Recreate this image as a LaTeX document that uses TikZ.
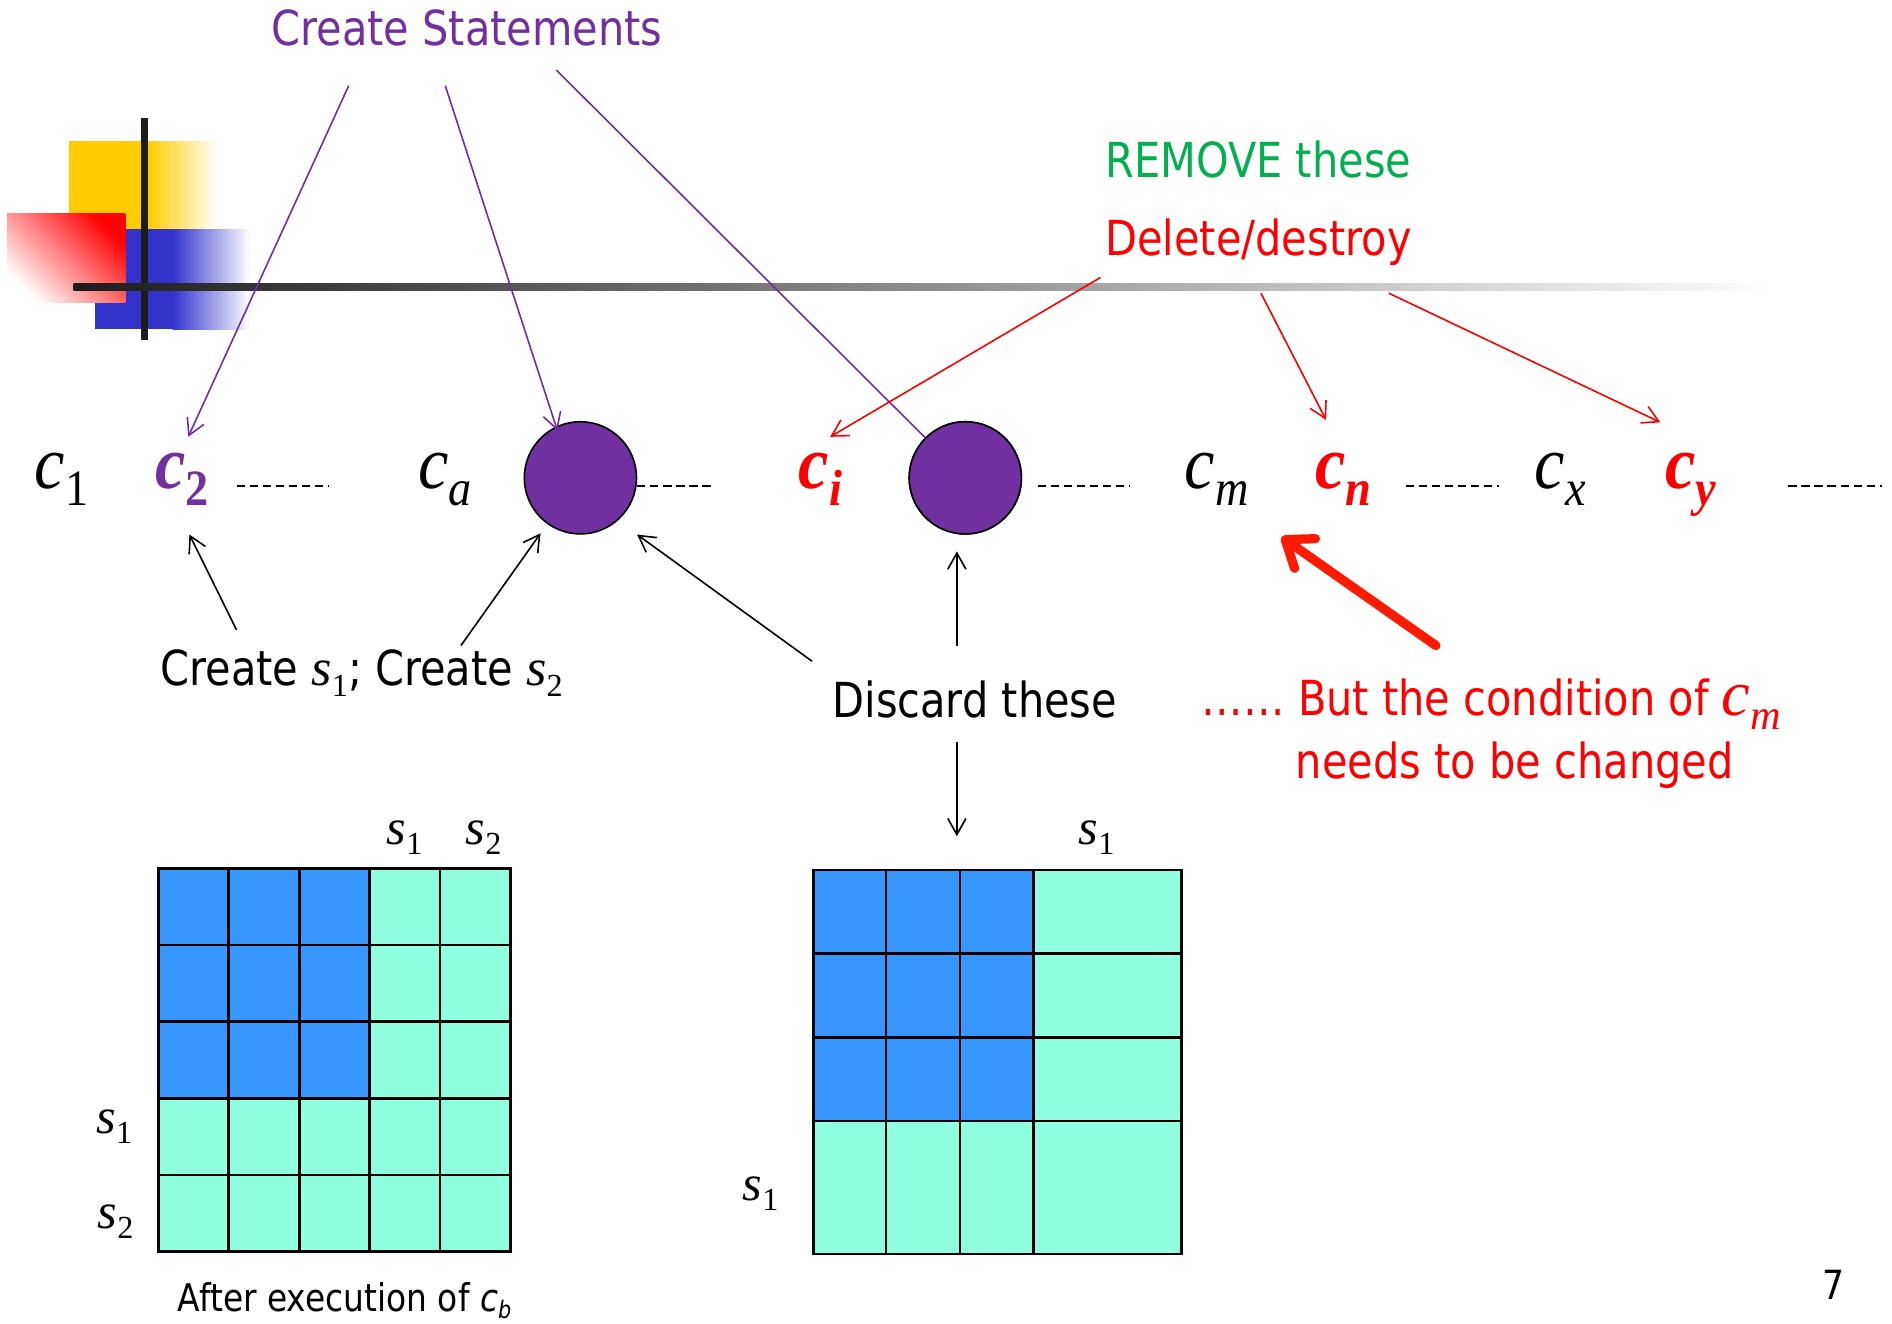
\documentclass[tikz,border=0pt]{standalone}
\usepackage{fontspec}
\setmainfont{DejaVu Sans}[FakeStretch=0.86]
\newfontfamily\tms{Liberation Serif}
\usetikzlibrary{arrows.meta}

\definecolor{stmtviolet}{HTML}{7030A0}
\definecolor{removegreen}{HTML}{00B050}
\definecolor{cellblue}{HTML}{3797FE}
\definecolor{cellaqua}{HTML}{8FFFE0}
\definecolor{logoyellow}{HTML}{FFCC00}
\definecolor{logoblue}{HTML}{3333CC}
\definecolor{barblack}{HTML}{1C1C1C}
\definecolor{arrowred}{HTML}{FF1A00}

% italic Times-style symbol with a lowered subscript:
% #1 symbol, #2 subscript, #3 symbol size, #4 subscript size, #5 drop
\newcommand\symsub[5]{{\fontsize{#3}{#3}\selectfont\tms\itshape #1}\raisebox{-#5}{\fontsize{#4}{#4}\selectfont\tms #2}}
% condition symbol c with its index, slightly stretched upwards
\newcommand\cond[2]{\scalebox{1}[1.1]{\symsub{#1c}{#2}{34}{23}{8pt}}}

\begin{document}
\begin{tikzpicture}[x=0.6pt,y=-0.6pt,
  txt/.style={inner sep=0pt,outer sep=0pt,anchor=base west},
  big/.style={font=\fontsize{24}{24}\selectfont},
  thinarrow/.style={line width=0.8pt,-{Straight Barb[length=8pt,width=9pt]}},
  rowdash/.style={line width=1.05pt,dash pattern=on 4.1pt off 2.4pt},
  gridline/.style={line width=1.3pt,line cap=rect},
  blob/.style={circle,draw=black,line width=0.8pt,fill=stmtviolet,minimum size=55.8pt,inner sep=0pt},
  bigarrow/.style={draw=arrowred,line width=4.6pt,line cap=round,-{Straight Barb[length=12pt,width=18pt,round]}}
]
\useasboundingbox (0,0) rectangle (1568,1097);

% ---- corner logo ----
\fill[logoyellow] (57,117) rectangle (123,190);
\shade[left color=logoyellow,right color=white] (123,117) rectangle (180,190);
\fill[logoblue] (79,190) rectangle (143,273);
\shade[left color=logoblue,right color=white] (143,190) rectangle (207,273);
\shade[top color=red,bottom color=white,shading angle=-45] (6,177) rectangle (104,251);
\fill[barblack] (117,98) rectangle (123,282);
\shade[left color=barblack,right color=white] (61,235) rectangle (1470,241);

% ---- headings ----
\node[txt,big,text=stmtviolet] (cs) at (225,38) {Create Statements};
\node[txt,big,text=removegreen] (rm) at (916,147) {REMOVE these};
\node[txt,big,text=red] (dd) at (916,212) {Delete/destroy};

% ---- row of conditions ----
\node[txt] (c1) at (29,404.5) {\cond{}{1}};
\node[txt,text=stmtviolet] (c2) at (128.5,404.5) {\cond{\bfseries}{\bfseries 2}};
\node[txt] (ca) at (346.5,404.5) {\cond{}{\itshape a}};
\node[blob] (circA) at (481,396) {};
\node[txt,text=red] (ci) at (662,404.5) {\cond{\bfseries}{\bfseries\itshape i}};
\node[blob] (circB) at (800,396) {};
\node[txt] (cm) at (982,404.5) {\cond{}{\itshape m}};
\node[txt,text=red] (cn) at (1090,404.5) {\cond{\bfseries}{\bfseries\itshape n}};
\node[txt] (cx) at (1272,404.5) {\cond{}{\itshape x}};
\node[txt,text=red] (cy) at (1380,404.5) {\cond{\bfseries}{\bfseries\itshape y}};

\draw[rowdash] (196,402.5) -- (273,402.5);
\draw[rowdash] (528,402.5) -- (592,402.5);
\draw[rowdash] (860,402.5) -- (936,402.5);
\draw[rowdash] (1165,402.5) -- (1242,402.5);
\draw[rowdash] (1482,402.5) -- (1560,402.5);

% ---- lower captions ----
\node[txt,big] (mk) at (133,568.5) {Create \symsub{s}{1}{26}{16}{5pt}; Create \symsub{s}{2}{26}{16}{5pt}};
\node[txt,big] (dc) at (690,595) {Discard these};
\node[txt,big,text=red] (bt) at (996,593) {…… But the condition of \symsub{c}{\itshape m}{32}{21}{7pt}};
\node[txt,big,text=red] (nd) at (1074,645) {needs to be changed};

% ---- arrow end points ----
\coordinate (csA) at (289,71);
\coordinate (csB) at (369,71);
\coordinate (csC) at (461,58);
\coordinate (c2top) at (156,362);
\coordinate (aTop) at (462,357);
\coordinate (ddA) at (912,230);
\coordinate (ddB) at (1045,243);
\coordinate (ddC) at (1151,243);
\coordinate (ciTop) at (688,362);
\coordinate (cnTop) at (1099,348);
\coordinate (cyTop) at (1376,350);
\coordinate (mkA) at (196,522);
\coordinate (mkB) at (382,535);
\coordinate (c2bot) at (157,443);
\coordinate (aLow) at (448,442);
\coordinate (dcA) at (673,548);
\coordinate (aRight) at (528,443);
\coordinate (dcUp) at (793,535);
\coordinate (bLow) at (793,457);
\coordinate (dcDown) at (793,615);
\coordinate (gridTop) at (793,693);
\coordinate (btTail) at (1190,535);
\coordinate (cmLow) at (1062,445);

% ---- connectors ----
\draw[thinarrow,stmtviolet] (csA) -- (c2top);
\draw[thinarrow,stmtviolet] (csB) -- (aTop);
\draw[line width=0.8pt,stmtviolet] (csC) -- (circB.135);
\node[blob] at (circB) {};
\draw[thinarrow,red] (ddA) -- (ciTop);
\draw[thinarrow,red] (ddB) -- (cnTop);
\draw[thinarrow,red] (ddC) -- (cyTop);
\draw[thinarrow] (mkA) -- (c2bot);
\draw[thinarrow] (mkB) -- (aLow);
\draw[thinarrow] (dcA) -- (aRight);
\draw[thinarrow] (dcUp) -- (bLow);
\draw[thinarrow] (dcDown) -- (gridTop);
\draw[bigarrow] (btTail) -- (cmLow);

% ---- matrix after execution of c_b ----
\fill[cellaqua] (131.2,719.7) rectangle (423.2,1037.4);
\fill[cellblue] (131.2,719.7) rectangle (306.4,910.2);
\foreach \k in {0,...,5} \draw[gridline] (131.2+\k*58.4,719.7) -- (131.2+\k*58.4,1037.4);
\foreach \k in {0,...,5} \draw[gridline] (131.2,719.7+\k*63.54) -- (423.2,719.7+\k*63.54);
\node[txt] (t1s1) at (320.5,700) {\symsub{s}{1}{25}{16}{5pt}};
\node[txt] (t1s2) at (386,700) {\symsub{s}{2}{25}{16}{5pt}};
\node[txt] (t1r1) at (80,939) {\symsub{s}{1}{25}{16}{5pt}};
\node[txt] (t1r2) at (81,1018) {\symsub{s}{2}{25}{16}{5pt}};
\node[txt,font=\fontsize{19}{19}\selectfont] (after) at (147.5,1087) {After execution of \textit{c}\raisebox{-3.5pt}{\fontsize{12}{12}\selectfont\itshape b}};

% ---- matrix after discarding ----
\fill[cellaqua] (674,721) rectangle (979.3,1039.3);
\fill[cellblue] (674,721) rectangle (856.4,929);
\foreach \xx in {674,734.3,795.6,856.4,979.3} \draw[gridline] (\xx,721) -- (\xx,1039.3);
\foreach \yy in {721,790,859.7,929,1039.3} \draw[gridline] (674,\yy) -- (979.3,\yy);
\node[txt] (t2s1) at (894,700) {\symsub{s}{1}{25}{16}{5pt}};
\node[txt] (t2r1) at (615.5,994.5) {\symsub{s}{1}{25}{16}{5pt}};

% ---- slide number ----
\node[txt,font=\fontsize{20}{20}\selectfont] (pg) at (1510,1077) {7};
\end{tikzpicture}
\end{document}
